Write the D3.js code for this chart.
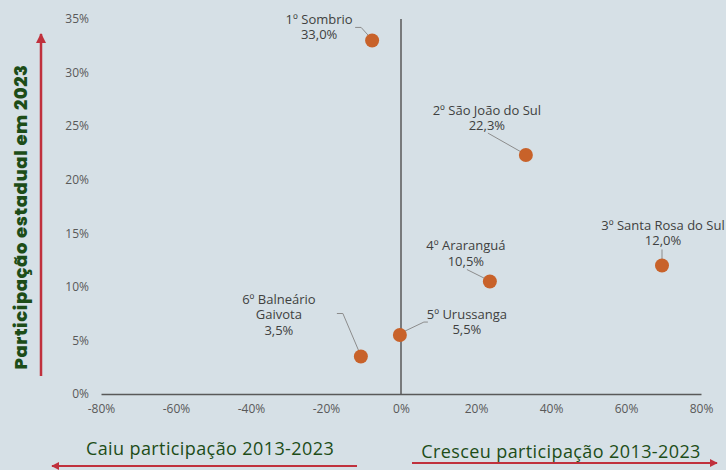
<!DOCTYPE html>
<html><head><meta charset="utf-8">
<script src="https://cdn.jsdelivr.net/npm/d3@7"></script>
<style>
html,body{margin:0;padding:0;background:#d6e0e6;}
svg{display:block;}
</style></head>
<body>
<svg id="c" width="726" height="470"></svg>
<script>
const cities = ["1º Sombrio","2º São João do Sul","3º Santa Rosa do Sul","4º Araranguá","5º Urussanga","6º Balneário Gaivota"];
const change2013_2023 = [-0.077, 0.333, 0.696, 0.237, -0.003, -0.107];
const share2023 = [0.330, 0.223, 0.120, 0.105, 0.055, 0.035];
const xTicks = [-0.8,-0.6,-0.4,-0.2,0,0.2,0.4,0.6,0.8];
const yTicks = [0,0.05,0.10,0.15,0.20,0.25,0.30,0.35];
const yTitle = "Participação estadual em 2023";
const leftLabel = "Caiu participação 2013-2023";
const rightLabel = "Cresceu participação 2013-2023";

const svg = d3.select("#c");
const W = 726, H = 470;
svg.append("rect").attr("width",W).attr("height",H).attr("fill","#d6e0e6");

const x = d3.scaleLinear().domain([-0.8,0.8]).range([101,701]);
const y = d3.scaleLinear().domain([0,0.35]).range([394,19]);
const pct = v => d3.format(".0%")(v).replace("−","-");
const br = d3.formatLocale({decimal:",",thousands:".",grouping:[3],currency:["R$",""]});
const pct1 = br.format(".1%");

const font = "'Open Sans', 'Noto Sans', sans-serif";
const tickColor = "#595959";

// x axis
const gx = svg.append("g").attr("transform",`translate(0,${y(0)})`)
  .call(d3.axisBottom(x).tickValues(xTicks).tickSize(0).tickPadding(10).tickFormat(pct));
gx.select(".domain").attr("stroke","#595959").attr("stroke-width",1.5);
gx.selectAll("text").attr("font-family",font).attr("font-size",12).attr("fill",tickColor);

// y axis (labels only)
const gy = svg.append("g").attr("transform",`translate(${x(-0.8)},0)`)
  .call(d3.axisLeft(y).tickValues(yTicks).tickSize(0).tickPadding(12).tickFormat(pct));
gy.select(".domain").remove();
gy.selectAll("text").attr("font-family",font).attr("font-size",12).attr("fill",tickColor);

// vertical line at 0
svg.append("line").attr("x1",x(0)).attr("x2",x(0)).attr("y1",y(0.35)).attr("y2",y(0))
  .attr("stroke","#595959").attr("stroke-width",1.5);

// arrow markers
const defs = svg.append("defs");
defs.append("marker").attr("id","ah").attr("viewBox","0 0 10 10").attr("refX",9).attr("refY",5)
  .attr("markerWidth",4).attr("markerHeight",4).attr("orient","auto-start-reverse")
  .append("path").attr("d","M0,0 L10,5 L0,10 z").attr("fill","#c0313d");

const red = "#c0313d";
svg.append("line").attr("x1",41).attr("x2",41).attr("y1",376).attr("y2",34)
  .attr("stroke",red).attr("stroke-width",2.5).attr("marker-end","url(#ah)");
svg.append("line").attr("x1",357).attr("x2",52).attr("y1",466).attr("y2",466)
  .attr("stroke",red).attr("stroke-width",2).attr("marker-end","url(#ah)");
svg.append("line").attr("x1",412).attr("x2",717).attr("y1",463).attr("y2",463)
  .attr("stroke",red).attr("stroke-width",2).attr("marker-end","url(#ah)");

// y title
svg.append("text").attr("transform","translate(27,217) rotate(-90)")
  .attr("text-anchor","middle").attr("font-family","Poppins, 'Open Sans', sans-serif")
  .attr("font-weight",800).attr("font-size",18).attr("letter-spacing",0.6)
  .attr("fill","#1d4d18").text(yTitle);

svg.append("text").attr("x",210).attr("y",455).attr("text-anchor","middle")
  .attr("font-family",font).attr("font-size",18).attr("letter-spacing",0.4)
  .attr("fill","#1d4d18").text(leftLabel);
svg.append("text").attr("x",561).attr("y",458).attr("text-anchor","middle")
  .attr("font-family",font).attr("font-size",18).attr("letter-spacing",0.4)
  .attr("fill","#1d4d18").text(rightLabel);

// label layout: dx = text centre offset, dy = baseline of value line, both relative to the dot (px)
const labelLayout = [
  {dx:-53, dy:-1,  names:["1º Sombrio"],               leader:[[-17,-13],[-11,-13],[-2,-3]]},
  {dx:-39, dy:-25, names:["2º São João do Sul"],       leader:[[-38,-22],[-1,-1]]},
  {dx:1,   dy:-20, names:["3º Santa Rosa do Sul"],     leader:[[0,-16],[0,-4]]},
  {dx:-24, dy:-16, names:["4º Araranguá"],             leader:[[-23,-12],[-1,-1]]},
  {dx:67,  dy:-1,  names:["5º Urussanga"],             leader:[[3,-3],[24,-13],[28,-13]]},
  {dx:-82, dy:-22, names:["6º Balneário","Gaivota"],   leader:[[-24,-43],[-18,-43],[-1,-3]]}
];

const data = cities.map((c,i)=>({name:c, cx:change2013_2023[i], sy:share2023[i], L:labelLayout[i]}));

const g = svg.append("g");
data.forEach(d=>{
  const px = x(d.cx), py = y(d.sy);
  g.append("path").attr("d", d3.line()(d.L.leader.map(p=>[px+p[0],py+p[1]])))
    .attr("fill","none").attr("stroke","#8c8c8c").attr("stroke-width",1);
  const allLines = d.L.names.concat([pct1(d.sy)]);
  const t = g.append("text").attr("text-anchor","middle").attr("font-family",font)
    .attr("font-size",13).attr("fill","#404040");
  const lineH = 15.5;
  const n = allLines.length;
  allLines.forEach((s,k)=>{
    t.append("tspan").attr("x",px+d.L.dx).attr("y",py + d.L.dy - (n-1-k)*lineH).text(s);
  });
});

g.selectAll("circle").data(data).join("circle")
  .attr("cx",d=>x(d.cx)).attr("cy",d=>y(d.sy)).attr("r",7).attr("fill","#c8622a");
</script>
</body></html>
